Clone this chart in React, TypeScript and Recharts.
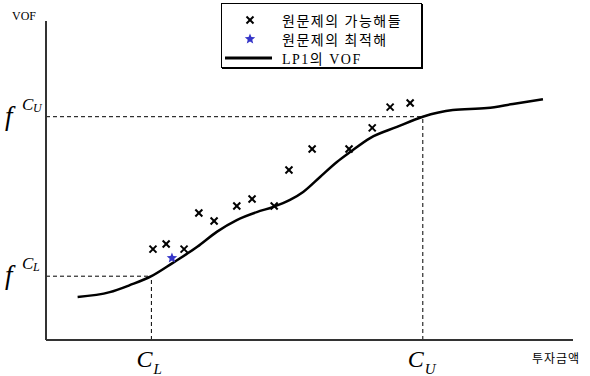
import {
  ComposedChart,
  Legend,
  Line,
  ReferenceLine,
  Scatter,
  XAxis,
  YAxis,
} from "recharts";

// LP1 value-of-objective curve
const curveX = [6, 12.1, 15.9, 20, 24, 28.7, 32.4, 36.2, 40, 43.1, 46.3, 48.8, 52, 55.2, 57.7, 61.5, 66.6, 71.5, 77.2, 83.7, 88.6, 94.3];
const curveY = [13.5, 15, 17.2, 20, 24.1, 29.2, 33.9, 37.6, 40.1, 41.7, 43.9, 46.4, 51.1, 55.8, 58.9, 63.3, 66.8, 70, 72.1, 72.7, 74, 75.5];

// feasible solutions of the original problem
const feasibleX = [20.3, 22.8, 26.2, 29, 31.9, 36.2, 39.1, 43.3, 46.1, 50.5, 57.5, 61.9, 65.3, 69.1];
const feasibleY = [28.5, 30.1, 28.5, 39.8, 37.3, 42, 44.2, 42, 53.3, 59.9, 59.9, 66.5, 73, 74.3];

// optimal solution
const optimalX = [23.9];
const optimalY = [25.7];

const cL = 20;
const cU = 71.5;
const fCL = 20;
const fCU = 70;

const legendLabels = ["원문제의 가능해들", "원문제의 최적해", "LP1의 VOF"];

const SERIF = "'Liberation Serif', 'DejaVu Serif', serif";
const KO = "'Liberation Serif', 'Noto Sans CJK KR', sans-serif";
const AXIS = "#333";
const STAR_BLUE = "#3535c8";

const curveRows = curveX.map((x, i) => ({ x, y: curveY[i] }));
const feasibleRows = feasibleX.map((x, i) => ({ x, y: feasibleY[i] }));
const optimalRows = optimalX.map((x, i) => ({ x, y: optimalY[i] }));

function starPath(cx: number, cy: number, outer: number, inner: number) {
  let d = "";
  for (let k = 0; k < 10; k++) {
    const r = k % 2 === 0 ? outer : inner;
    const a = -Math.PI / 2 + (k * Math.PI) / 5;
    d += `${k === 0 ? "M" : "L"}${cx + r * Math.cos(a)},${cy + r * Math.sin(a)}`;
  }
  return d + "Z";
}

function CrossMark(props: any) {
  const { cx, cy } = props;
  if (cx == null || cy == null) return null;
  const s = 3.5;
  return (
    <g stroke="#000" strokeWidth={2}>
      <line x1={cx - s} y1={cy - s} x2={cx + s} y2={cy + s} />
      <line x1={cx - s} y1={cy + s} x2={cx + s} y2={cy - s} />
    </g>
  );
}

function StarMark(props: any) {
  const { cx, cy } = props;
  if (cx == null || cy == null) return null;
  return <path d={starPath(cx, cy, 5.5, 2.4)} fill={STAR_BLUE} />;
}

function YTick(props: any) {
  const { y, payload } = props;
  const sub = payload.value === fCU ? "U" : "L";
  return (
    <text fontFamily={SERIF} fill="#000">
      <tspan x={5} y={y + 8} fontSize={27} fontStyle="italic">
        f
      </tspan>
      <tspan x={22} y={y - 7} fontSize={17} fontStyle="italic">
        C
      </tspan>
      <tspan x={33} y={y - 5} fontSize={12} fontStyle="italic">
        {sub}
      </tspan>
    </text>
  );
}

function XTick(props: any) {
  const { x, payload } = props;
  const sub = payload.value === cU ? "U" : "L";
  return (
    <text fontFamily={SERIF} fill="#000">
      <tspan x={x - 15} y={367} fontSize={24} fontStyle="italic">
        C
      </tspan>
      <tspan x={x + 2} y={374} fontSize={15} fontStyle="italic">
        {sub}
      </tspan>
    </text>
  );
}

function LegendBox() {
  const row = { display: "flex", alignItems: "center", height: 19 } as const;
  const icon = { width: 52, display: "flex", justifyContent: "center" } as const;
  return (
    <div
      style={{
        width: 201,
        height: 65,
        border: "1px solid #000",
        boxShadow: "1px 1px 0 #000",
        background: "#fff",
        boxSizing: "border-box",
        padding: "6px 0 0 2px",
        fontFamily: KO,
        fontSize: 14,
        letterSpacing: 1.5,
        color: "#000",
      }}
    >
      <div style={row}>
        <div style={icon}>
          <svg width={12} height={12}>
            <CrossMark cx={6} cy={6} />
          </svg>
        </div>
        <span style={{ marginLeft: 6 }}>{legendLabels[0]}</span>
      </div>
      <div style={row}>
        <div style={icon}>
          <svg width={12} height={12}>
            <StarMark cx={6} cy={6} />
          </svg>
        </div>
        <span style={{ marginLeft: 6 }}>{legendLabels[1]}</span>
      </div>
      <div style={row}>
        <div style={{ ...icon, justifyContent: "flex-start" }}>
          <svg width={50} height={4}>
            <line x1={1} y1={2} x2={48} y2={2} stroke="#000" strokeWidth={3} />
          </svg>
        </div>
        <span style={{ marginLeft: 6 }}>{legendLabels[2]}</span>
      </div>
    </div>
  );
}

export default function App() {
  return (
    <div style={{ position: "absolute", left: 0, top: 0, width: 590, height: 376, background: "#fff" }}>
      <ComposedChart
        width={590}
        height={376}
        margin={{ top: 21, right: 17, bottom: 0, left: 0 }}
      >
        <XAxis
          type="number"
          dataKey="x"
          domain={[0, 100]}
          ticks={[cL, cU]}
          interval={0}
          tick={<XTick />}
          tickLine={false}
          axisLine={{ stroke: AXIS, strokeWidth: 2 }}
          height={36}
          allowDataOverflow
        />
        <YAxis
          type="number"
          dataKey="y"
          domain={[0, 100]}
          ticks={[fCL, fCU]}
          interval={0}
          tick={<YTick />}
          tickLine={false}
          axisLine={{ stroke: AXIS, strokeWidth: 2 }}
          width={46}
          allowDataOverflow
        />
        <Legend
          layout="vertical"
          align="center"
          verticalAlign="middle"
          content={() => <LegendBox />}
          wrapperStyle={{ position: "absolute", left: 221, top: 3, width: 201, height: 65 }}
        />
        <ReferenceLine
          segment={[{ x: 0, y: fCU }, { x: cU, y: fCU }]}
          stroke="#000"
          strokeDasharray="4 3"
        />
        <ReferenceLine
          segment={[{ x: cU, y: 0 }, { x: cU, y: fCU }]}
          stroke="#000"
          strokeDasharray="4 3"
        />
        <ReferenceLine
          segment={[{ x: 0, y: fCL }, { x: cL, y: fCL }]}
          stroke="#000"
          strokeDasharray="4 3"
        />
        <ReferenceLine
          segment={[{ x: cL, y: 0 }, { x: cL, y: fCL }]}
          stroke="#000"
          strokeDasharray="4 3"
        />
        <Line
          data={curveRows}
          dataKey="y"
          type="monotone"
          stroke="#000"
          strokeWidth={2.5}
          dot={false}
          activeDot={false}
          isAnimationActive={false}
          legendType="none"
        />
        <Scatter
          data={feasibleRows}
          dataKey="y"
          shape={<CrossMark />}
          isAnimationActive={false}
        />
        <Scatter
          data={optimalRows}
          dataKey="y"
          shape={<StarMark />}
          isAnimationActive={false}
        />
        <text x={12} y={20} fontFamily={SERIF} fontSize={12} fill="#000">
          VOF
        </text>
        <text x={532} y={363} fontFamily={KO} fontSize={12} letterSpacing={1} fill="#000">
          투자금액
        </text>
      </ComposedChart>
    </div>
  );
}
